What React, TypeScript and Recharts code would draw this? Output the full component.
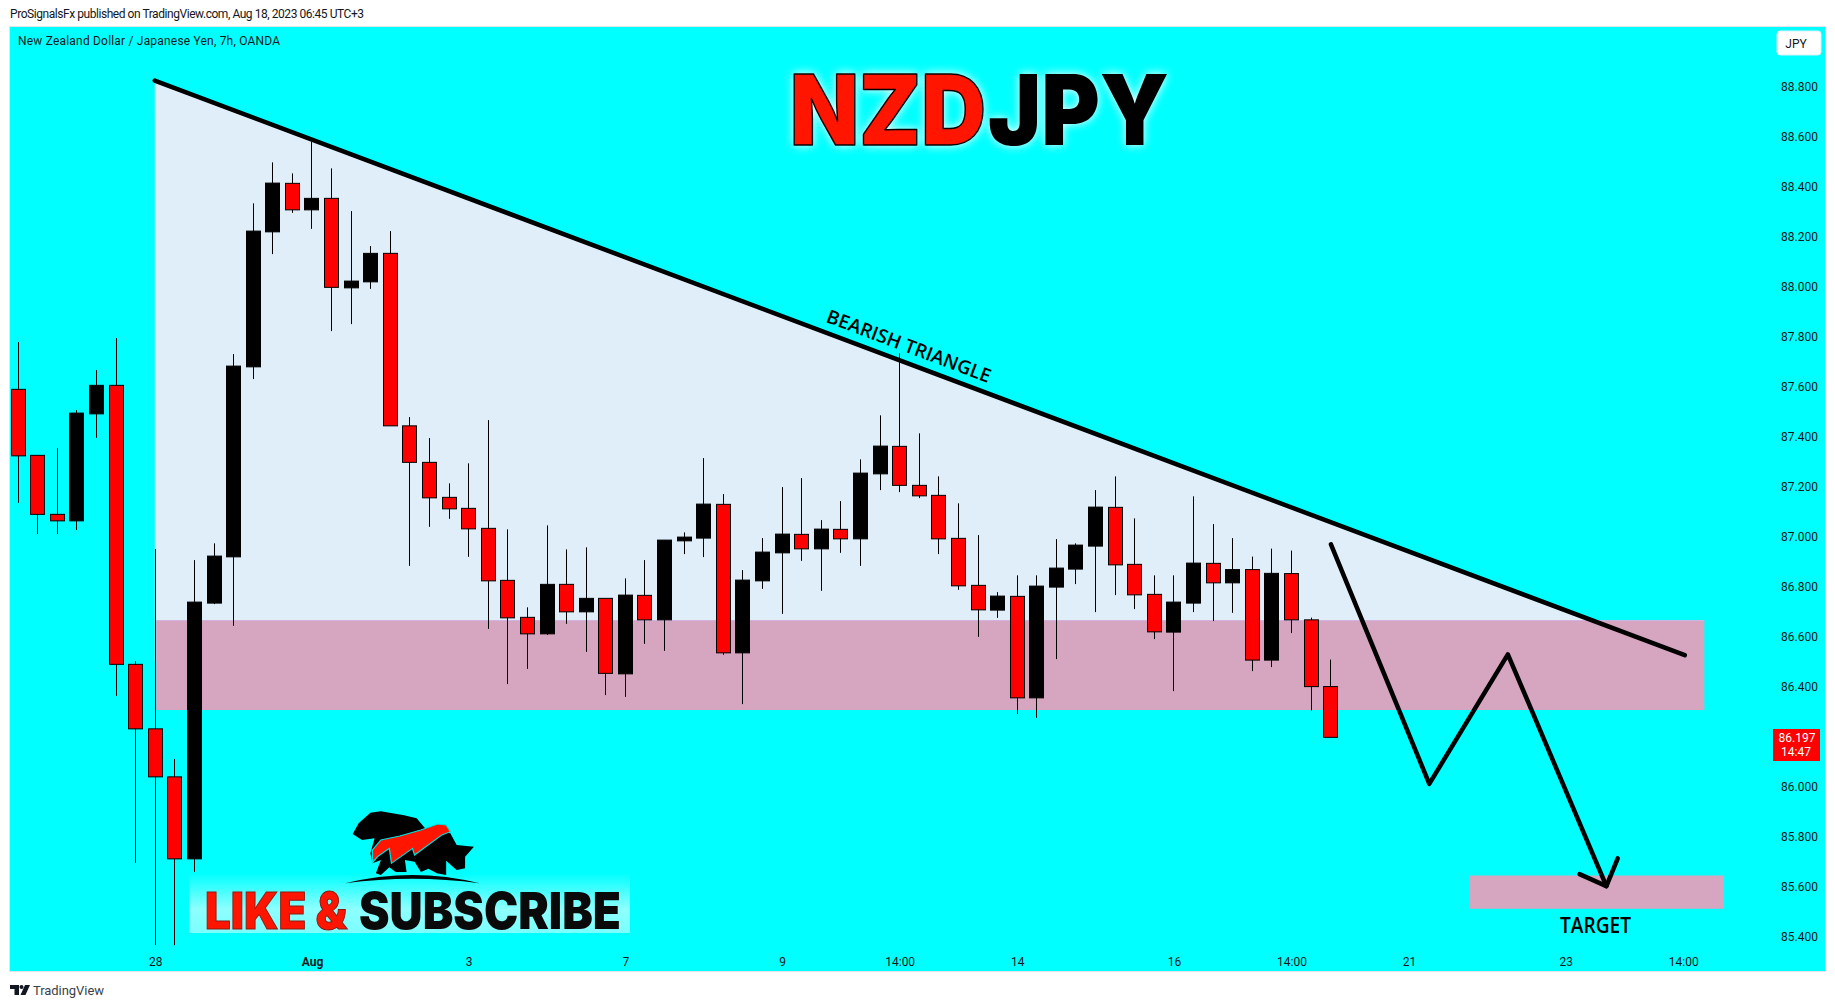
import { FC } from "react";
import { Area, Bar, ComposedChart, Line, XAxis, YAxis } from "recharts";

const highs = [87.778, 87.325, 87.354, 87.506, 87.666, 87.794, 86.502, 86.95, 86.11, 86.906, 86.973, 87.73, 88.333, 88.497, 88.453, 88.579, 88.473, 88.302, 88.162, 88.222, 87.478, 87.394, 87.213, 87.293, 87.466, 87.029, 86.717, 87.045, 86.949, 86.957, 86.753, 86.833, 86.906, 86.986, 87.017, 87.314, 87.17, 86.866, 86.994, 87.198, 87.234, 87.066, 87.142, 87.309, 87.485, 87.733, 87.413, 87.241, 87.133, 87.006, 86.778, 86.845, 86.845, 86.99, 86.973, 87.186, 87.241, 87.073, 86.845, 86.845, 87.161, 87.05, 86.994, 86.92, 86.952, 86.944, 86.676, 86.508];
const lows = [87.135, 87.01, 87.01, 87.026, 87.395, 86.363, 85.695, 85.366, 85.366, 85.659, 86.73, 86.643, 87.63, 88.13, 88.295, 88.231, 87.822, 87.85, 87.991, 87.443, 86.883, 87.039, 87.071, 86.919, 86.631, 86.41, 86.471, 86.607, 86.651, 86.539, 86.366, 86.359, 86.571, 86.543, 86.93, 86.918, 86.527, 86.33, 86.791, 86.691, 86.903, 86.783, 86.935, 86.883, 87.186, 87.178, 87.154, 86.93, 86.787, 86.599, 86.675, 86.29, 86.275, 86.51, 86.81, 86.698, 86.766, 86.71, 86.59, 86.382, 86.698, 86.662, 86.695, 86.462, 86.478, 86.614, 86.304, 86.197];
const opens = [87.589, 87.325, 87.089, 87.063, 87.491, 87.605, 86.489, 86.231, 86.039, 85.711, 86.734, 86.919, 87.679, 88.219, 88.413, 88.307, 88.353, 87.995, 88.019, 88.133, 87.443, 87.297, 87.157, 87.113, 87.033, 86.825, 86.677, 86.611, 86.809, 86.699, 86.753, 86.451, 86.765, 86.667, 86.983, 86.994, 87.129, 86.535, 86.823, 86.935, 87.009, 86.951, 87.029, 86.991, 87.251, 87.361, 87.205, 87.165, 86.993, 86.805, 86.706, 86.761, 86.355, 86.798, 86.87, 86.962, 87.117, 86.889, 86.769, 86.618, 86.734, 86.893, 86.815, 86.868, 86.506, 86.852, 86.667, 86.4];
const closes = [87.323, 87.089, 87.063, 87.494, 87.605, 86.489, 86.231, 86.039, 85.711, 86.738, 86.922, 87.682, 88.222, 88.414, 88.307, 88.353, 87.997, 88.022, 88.133, 87.443, 87.297, 87.155, 87.111, 87.031, 86.823, 86.675, 86.611, 86.809, 86.699, 86.753, 86.453, 86.766, 86.667, 86.986, 86.998, 87.13, 86.535, 86.826, 86.938, 87.01, 86.951, 87.03, 86.991, 87.254, 87.362, 87.205, 87.163, 86.991, 86.803, 86.707, 86.762, 86.355, 86.802, 86.874, 86.966, 87.118, 86.887, 86.767, 86.619, 86.738, 86.894, 86.815, 86.868, 86.506, 86.853, 86.667, 86.4, 86.197];

const priceTicks = [85.4, 85.6, 85.8, 86.0, 86.4, 86.6, 86.8, 87.0, 87.2, 87.4, 87.6, 87.8, 88.0, 88.2, 88.4, 88.6, 88.8];
const timeTicks = [7, 15, 23, 31, 39, 45, 51, 59, 65, 71, 79, 85];
const timeLabels = ["28", "Aug", "3", "7", "9", "14:00", "14", "16", "14:00", "21", "23", "14:00"];

const trendBars = [7, 85.1];
const trendPrices = [88.824, 86.526];
const zoneBars = [7.07, 86.1];
const zoneTop = 86.664;
const zoneBottom = 86.306;
const targetBars = [74.1, 87.1];
const targetTop = 85.644;
const targetBottom = 85.511;
const pathBars = [67.04, 72.06, 76.07, 81.1];
const pathPrices = [86.969, 86.011, 86.529, 85.602];
const headBars = [79.73, 81.1, 81.68];
const headPrices = [85.65, 85.602, 85.713];

const candles = opens.map((open, i) => ({
  x: i,
  open,
  close: closes[i],
  high: highs[i],
  low: lows[i],
  range: [lows[i], highs[i]],
}));
const trendData = trendBars.map((x, i) => ({ x, y: trendPrices[i] }));
const zoneData = zoneBars.map((x) => ({ x, y: zoneTop }));
const targetData = targetBars.map((x) => ({ x, y: targetTop }));
const pathData = pathBars.map((x, i) => ({ x, y: pathPrices[i] }));
const headData = headBars.map((x, i) => ({ x, y: headPrices[i] }));

const UI_FONT = "Roboto, sans-serif";

const Candle: FC<any> = ({ x, y, width, height, payload }) => {
  const { open, close, high, low } = payload;
  const perUnit = height / (high - low);
  const top = y + (high - Math.max(open, close)) * perUnit;
  const bodyH = Math.abs(open - close) * perUnit;
  const mid = Math.round(x + width / 2);
  return (
    <g>
      <line x1={mid + 0.5} x2={mid + 0.5} y1={y} y2={y + height} stroke="#000" strokeWidth={1} />
      <rect
        x={mid - 6.5}
        y={top}
        width={14}
        height={bodyH}
        fill={close < open ? "#ff0000" : "#000"}
        stroke="#000"
        strokeWidth={1}
      />
    </g>
  );
};

const TimeTick: FC<any> = ({ x, y, payload }) => {
  const label = timeLabels[timeTicks.indexOf(payload.value)];
  return (
    <text
      x={x + 1}
      y={y + 12}
      textAnchor="middle"
      fontFamily={UI_FONT}
      fontSize={12}
      fontWeight={label === "Aug" ? 700 : 400}
      fill="#131722"
    >
      {label}
    </text>
  );
};

const Overlay = () => (
  <svg
    width={1835}
    height={1008}
    style={{ position: "absolute", left: 0, top: 0, pointerEvents: "none" }}
  >
    <defs>
      <linearGradient id="glow" x1="0" y1="0" x2="0" y2="1">
        <stop offset="0" stopColor="#00ffff" />
        <stop offset="0.6" stopColor="#8effff" />
        <stop offset="1" stopColor="#7cffff" />
      </linearGradient>
    </defs>
    <text x={10} y={18} fontFamily={UI_FONT} fontSize={12} fill="#131722" textLength={354}>
      ProSignalsFx published on TradingView.com, Aug 18, 2023 06:45 UTC+3
    </text>
    <text x={18} y={45} fontFamily={UI_FONT} fontSize={12} fill="#131722" textLength={262}>
      New Zealand Dollar / Japanese Yen, 7h, OANDA
    </text>

    <g fontFamily="Inter, sans-serif" fontSize={98} fontWeight={900} style={{ filter: "drop-shadow(0 0 5px #ffffff)" }}>
      <text x={790} y={145} fill="#ff1500" stroke="#000" strokeWidth={1.5} strokeLinejoin="round" textLength={196} lengthAdjust="spacingAndGlyphs">
        NZD
      </text>
      <text x={988} y={145} fill="#000" textLength={181} lengthAdjust="spacingAndGlyphs">
        JPY
      </text>
    </g>

    <text
      transform="translate(825 321.7) rotate(20.6)"
      fontFamily="'Open Sans', sans-serif"
      fontSize={19}
      fontWeight={600}
      fill="#000"
      textLength={174}
      lengthAdjust="spacingAndGlyphs"
    >
      BEARISH TRIANGLE
    </text>
    <text
      x={1560}
      y={933}
      fontFamily="'Open Sans', sans-serif"
      fontSize={21}
      fontWeight={600}
      fill="#000"
      textLength={71}
      lengthAdjust="spacingAndGlyphs"
    >
      TARGET
    </text>

    <rect x={189} y={873} width={441} height={60} fill="url(#glow)" />
    <g fontFamily="Inter, sans-serif" fontSize={51} fontWeight={900}>
      <text x={205} y={929} fill="#ff1500" stroke="#8a1a10" strokeWidth={1} textLength={142} lengthAdjust="spacingAndGlyphs">
        LIKE &amp;
      </text>
      <text x={359} y={929} fill="#0a0a0a" textLength={262} lengthAdjust="spacingAndGlyphs">
        SUBSCRIBE
      </text>
    </g>

    {/* logo, traced by hand */}
    <g transform="translate(0 670) scale(0.4209 0.3333)">
      <path
        d="M838 492 L852 460 L880 428 L905 424 L960 436 L990 445 L1012 478 L1070 490 L1085 525 L1126 530 L1105 560 L1105 595 L1085 600 L1060 572 L1060 615 L1038 610 L1018 596 L1000 606 L985 575 L962 570 L966 606 L940 606 L925 592 L905 615 L893 610 L905 570 L885 580 L880 550 L890 505 L860 510 Z"
        fill="#000"
      />
      <path
        d="M885 578 L885 540 L905 510 L950 498 L1000 480 L1040 462 L1060 465 L1070 485 L1050 495 L985 555 L980 535 L930 580 L925 535 L897 560 Z"
        fill="#ff1500"
        stroke="#00e0e0"
        strokeWidth={3}
      />
      <path d="M820 640 Q980 590 1140 640 Q980 612 820 640 Z" fill="#000" />
    </g>

    <rect x={1773} y={729} width={47} height={32} fill="#ff0000" />
    <text x={1797} y={742} textAnchor="middle" fontFamily={UI_FONT} fontSize={12} fill="#fff">
      86.197
    </text>
    <text x={1796} y={756} textAnchor="middle" fontFamily={UI_FONT} fontSize={12} fill="#fff">
      14:47
    </text>

    <rect x={1777} y={31} width={44} height={24} rx={3} fill="#fff" stroke="#d9f0f4" />
    <text x={1796} y={48} textAnchor="middle" fontFamily={UI_FONT} fontSize={12} fill="#131722">
      JPY
    </text>

    <g fill="#131722">
      <path d="M10 985 H19 V995 H14.5 V989 H10 Z" />
      <circle cx={21.5} cy={987} r={2} />
      <path d="M25 985 H30 L25.5 995 H20.5 Z" />
    </g>
    <text x={33} y={995} fontFamily={UI_FONT} fontSize={13} fill="#3a3f4a" textLength={71}>
      TradingView
    </text>
  </svg>
);

export default function App() {
  return (
    <div style={{ position: "absolute", left: 0, top: 0, width: 1835, height: 1008, background: "#fff" }}>
      <div style={{ position: "absolute", left: 10, top: 27, outline: "1px solid #dbe7ea", background: "#00ffff" }}>
        <ComposedChart
          width={1815}
          height={944}
          data={candles}
          margin={{ top: 0, right: 0, bottom: 0, left: 0 }}
        >
          <XAxis
            dataKey="x"
            type="number"
            domain={[-0.39, 89.35]}
            allowDataOverflow
            ticks={timeTicks}
            interval={0}
            height={25}
            axisLine={false}
            tickLine={false}
            tick={<TimeTick />}
          />
          <YAxis
            orientation="right"
            type="number"
            domain={[85.3624, 89.0384]}
            allowDataOverflow
            ticks={priceTicks}
            interval={0}
            width={57}
            axisLine={false}
            tickLine={false}
            tickSize={0}
            tickMargin={13}
            tickFormatter={(v: number) => v.toFixed(3)}
            tick={{ fontFamily: UI_FONT, fontSize: 12, fill: "#131722" }}
          />
          <Area
            data={trendData}
            dataKey="y"
            type="linear"
            baseValue={86.5}
            fill="#e0eef9"
            fillOpacity={1}
            stroke="none"
            dot={false}
            activeDot={false}
            isAnimationActive={false}
          />
          <Area
            data={zoneData}
            dataKey="y"
            type="linear"
            baseValue={zoneBottom}
            fill="#d6a5bf"
            fillOpacity={1}
            stroke="#d3b0e0"
            dot={false}
            activeDot={false}
            isAnimationActive={false}
          />
          <Area
            data={targetData}
            dataKey="y"
            type="linear"
            baseValue={targetBottom}
            fill="#d6a5bf"
            fillOpacity={1}
            stroke="none"
            dot={false}
            activeDot={false}
            isAnimationActive={false}
          />
          <Bar dataKey="range" barSize={14} shape={<Candle />} isAnimationActive={false} />
          <Line data={trendData} dataKey="y" type="linear" stroke="#000" strokeWidth={4.5} strokeLinecap="round" dot={false} activeDot={false} isAnimationActive={false} />
          <Line data={pathData} dataKey="y" type="linear" stroke="#000" strokeWidth={4.5} strokeLinecap="round" strokeLinejoin="round" dot={false} activeDot={false} isAnimationActive={false} />
          <Line data={headData} dataKey="y" type="linear" stroke="#000" strokeWidth={4.5} strokeLinecap="round" strokeLinejoin="round" dot={false} activeDot={false} isAnimationActive={false} />
        </ComposedChart>
      </div>
      <Overlay />
    </div>
  );
}
